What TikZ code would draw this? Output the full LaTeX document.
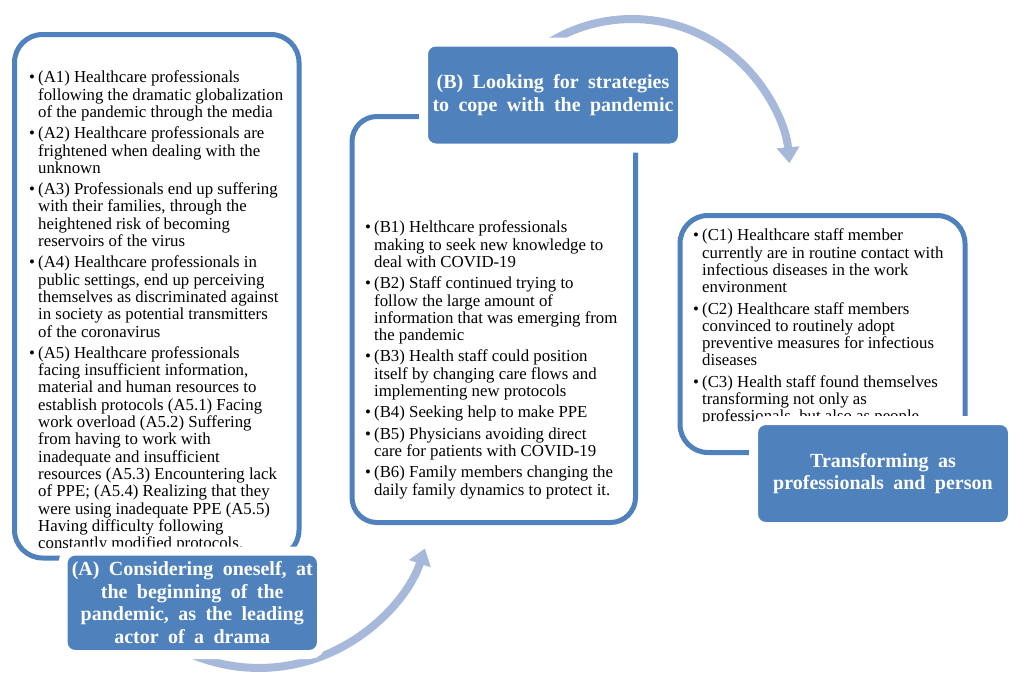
\documentclass[tikz,border=0pt]{standalone}
\usepackage{fontspec}
\setmainfont{Liberation Serif}
\usetikzlibrary{arrows.meta}
\definecolor{accentblue}{RGB}{79,129,189}
\definecolor{arrowblue}{RGB}{167,185,219}
\newcommand{\bul}{\makebox[9pt][l]{\textbullet}}
\newcommand{\ind}{\hspace*{9pt}}
\newcommand{\labelfont}{\fontsize{20}{22.5}\selectfont\bfseries}
\newcommand{\widespaces}{\spaceskip=0.47em plus 0.1em\relax}
\begin{document}
\begin{tikzpicture}[x=1pt,y=1pt,
  outlinebox/.style={draw=accentblue, line width=5pt, inner sep=0pt},
  labelbox/.style={fill=accentblue, draw=white, line width=9pt, rounded corners=12pt,
    minimum width=259pt, minimum height=106pt, inner sep=0pt, align=center, text=white,
    font=\labelfont, execute at begin node=\widespaces},
  bodytext/.style={anchor=north west, inner sep=0pt, align=left,
    font=\fontsize{16.8}{17.3}\selectfont},
  arcarrow/.style={draw=arrowblue, line width=8pt, -{Triangle[length=16pt,width=22pt]}}
]
\useasboundingbox (0,0) rectangle (1028,-680);
\fill[white] (0,0) rectangle (1028,-680);

% curved arrows
\coordinate (topArcStart) at (520.3,-65.3);
\draw[arcarrow] (topArcStart) arc[start angle=135, end angle=5, radius=158];
\coordinate (botArcStart) at (158.6,-636.3);
\draw[arcarrow] (botArcStart) arc[start angle=235, end angle=341.5, radius=175];

% outlined boxes
\node[outlinebox, rounded corners=28pt, minimum width=284.5pt, minimum height=523.5pt] (boxA) at (156.75,-296.25) {};
\node[outlinebox, rounded corners=25pt, minimum width=283.5pt, minimum height=406pt] (boxB) at (493.75,-319.5) {};
\node[outlinebox, rounded corners=28pt, minimum width=285pt, minimum height=237pt] (boxC) at (822.5,-334) {};

% texts
\begin{scope}
\clip (0,-549) rectangle (330,-20);
\node[bodytext] (textA) at (29,-70.8) {\bul (A1) Healthcare professionals\\
\ind following the dramatic globalization\\
\ind of the pandemic through the media\\[4pt]
\bul (A2) Healthcare professionals are\\
\ind frightened when dealing with the\\
\ind unknown\\[4pt]
\bul (A3) Professionals end up suffering\\
\ind with their families, through the\\
\ind heightened risk of becoming\\
\ind reservoirs of the virus\\[4pt]
\bul (A4) Healthcare professionals in\\
\ind public settings, end up perceiving\\
\ind themselves as discriminated against\\
\ind in society as potential transmitters\\
\ind of the coronavirus\\[4pt]
\bul (A5) Healthcare professionals\\
\ind facing insufficient information,\\
\ind material and human resources to\\
\ind establish protocols (A5.1) Facing\\
\ind work overload (A5.2) Suffering\\
\ind from having to work with\\
\ind inadequate and insufficient\\
\ind resources (A5.3) Encountering lack\\
\ind of PPE; (A5.4) Realizing that they\\
\ind were using inadequate PPE (A5.5)\\
\ind Having difficulty following\\
\ind constantly modified protocols.};
\end{scope}

\node[bodytext] (textB) at (365,-220.8) {\bul (B1) Helthcare professionals\\
\ind making to seek new knowledge to\\
\ind deal with COVID-19\\[4pt]
\bul (B2) Staff continued trying to\\
\ind follow the large amount of\\
\ind information that was emerging from\\
\ind the pandemic\\[4pt]
\bul (B3) Health staff could position\\
\ind itself by changing care flows and\\
\ind implementing new protocols\\[4pt]
\bul (B4) Seeking help to make PPE\\[4pt]
\bul (B5) Physicians avoiding direct\\
\ind care for patients with COVID-19\\[4pt]
\bul (B6) Family members changing the\\
\ind daily family dynamics to protect it.};

\begin{scope}
\clip (670,-421) rectangle (990,-200);
\node[bodytext] (textC) at (693,-228.8) {\bul (C1) Healthcare staff member\\
\ind currently are in routine contact with\\
\ind infectious diseases in the work\\
\ind environment\\[4pt]
\bul (C2) Healthcare staff members\\
\ind convinced to routinely adopt\\
\ind preventive measures for infectious\\
\ind diseases\\[4pt]
\bul (C3) Health staff found themselves\\
\ind transforming not only as\\
\ind professionals, but also as people};
\end{scope}

% labels
\node[labelbox, minimum width=258.5pt, minimum height=103.5pt] (labelA) at (192.25,-602.75)
  {(A) Considering oneself, at\\the beginning of the\\pandemic, as the leading\\actor of a drama};
\node[labelbox] (labelB) at (553,-95) {(B) Looking for strategies\\to cope with the pandemic};
\node[labelbox] (labelC) at (883,-473.5) {Transforming as\\professionals and person};
\end{tikzpicture}
\end{document}
